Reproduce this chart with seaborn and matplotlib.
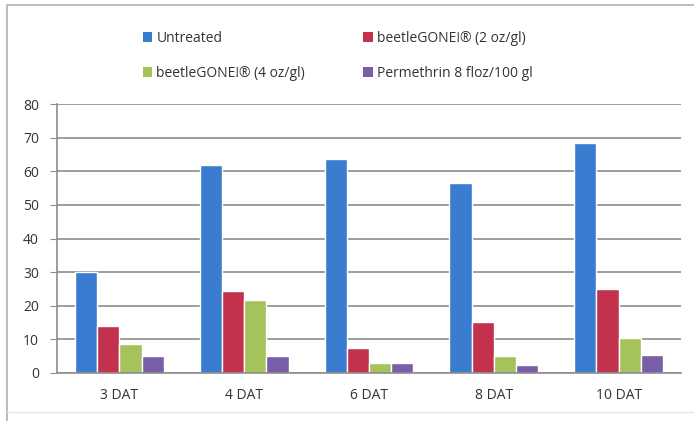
import matplotlib.pyplot as plt
import matplotlib as mpl
from matplotlib.patches import Patch
from matplotlib.lines import Line2D
import numpy as np
import pandas as pd
import seaborn as sns

days = ['3 DAT', '4 DAT', '6 DAT', '8 DAT', '10 DAT']
treatments = ['Untreated', 'beetleGONE!\u00ae (2 oz/gl)',
              'beetleGONE!\u00ae (4 oz/gl)', 'Permethrin 8 floz/100 gl']
untreated = [30, 62, 63.5, 56.5, 68.5]
bg_2oz = [14, 24.5, 7.3, 15.2, 25]
bg_4oz = [8.6, 21.8, 3, 5.1, 10.3]
permethrin = [5, 5, 3, 2.4, 5.4]
colors = ['#3a7ccf', '#c2324c', '#a6c25a', '#7a5ea8']

df = pd.DataFrame({
    'day': days * 4,
    'treatment': np.repeat(treatments, len(days)),
    'value': untreated + bg_2oz + bg_4oz + permethrin,
})

sns.set_style('white')
plt.rcParams['font.family'] = ['Open Sans', 'DejaVu Sans']

fig = plt.figure(figsize=(6.94, 4.21), dpi=100, facecolor='white')
ax = fig.add_axes([57/694, 1 - 373/421, (681-57)/694, (373-104)/421])

sns.barplot(data=df, x='day', y='value', hue='treatment', order=days,
            hue_order=treatments, palette=colors, width=0.71,
            saturation=1, ax=ax, legend=False)

ax.set_ylim(0, 80)
ax.set_xlim(-0.5, len(days) - 0.5)
ax.set_yticks(range(0, 81, 10))
ax.set_xlabel('')
ax.set_ylabel('')
ax.yaxis.grid(True, color='#8c8c8c', linewidth=1.2)
ax.set_axisbelow(True)
for s in ['top', 'right']:
    ax.spines[s].set_visible(False)
for s in ['left', 'bottom']:
    ax.spines[s].set_color('#8c8c8c')
    ax.spines[s].set_linewidth(1.2)
ax.set_xticks(np.arange(-0.5, len(days)), minor=True)
ax.tick_params(axis='x', which='major', length=0, pad=11, labelsize=10, colors='#333333')
ax.tick_params(axis='x', which='minor', length=4, color='#8c8c8c', direction='out')
ax.tick_params(axis='y', length=5, color='#8c8c8c', direction='out', pad=8,
               labelsize=10, labelcolor='#333333', left=True)

handles = [Patch(facecolor=c, edgecolor='none') for c in colors]
order = [0, 2, 1, 3]
leg = fig.legend([handles[i] for i in order], [treatments[i] for i in order],
                 ncol=2, loc='upper left', bbox_to_anchor=(130/694, 1 - 18/421),
                 frameon=False, fontsize=10, handlelength=0.7, handleheight=0.7,
                 handletextpad=0.3, labelspacing=1.45, columnspacing=4.2)
for t in leg.get_texts():
    t.set_color('#333333')

# outer chart frame (top and left edges visible)
fig.add_artist(Line2D([7/694, 1], [1 - 5/421, 1 - 5/421], transform=fig.transFigure,
                      color='#bdbdbd', linewidth=1.5))
fig.add_artist(Line2D([7/694, 7/694], [0, 1 - 5/421], transform=fig.transFigure,
                      color='#bdbdbd', linewidth=1.5))
fig.add_artist(Line2D([7/694, 1], [1 - 412/421, 1 - 412/421], transform=fig.transFigure,
                      color='#e6e6e6', linewidth=1.0))

fig.savefig('out.png', dpi=100, facecolor='white')
